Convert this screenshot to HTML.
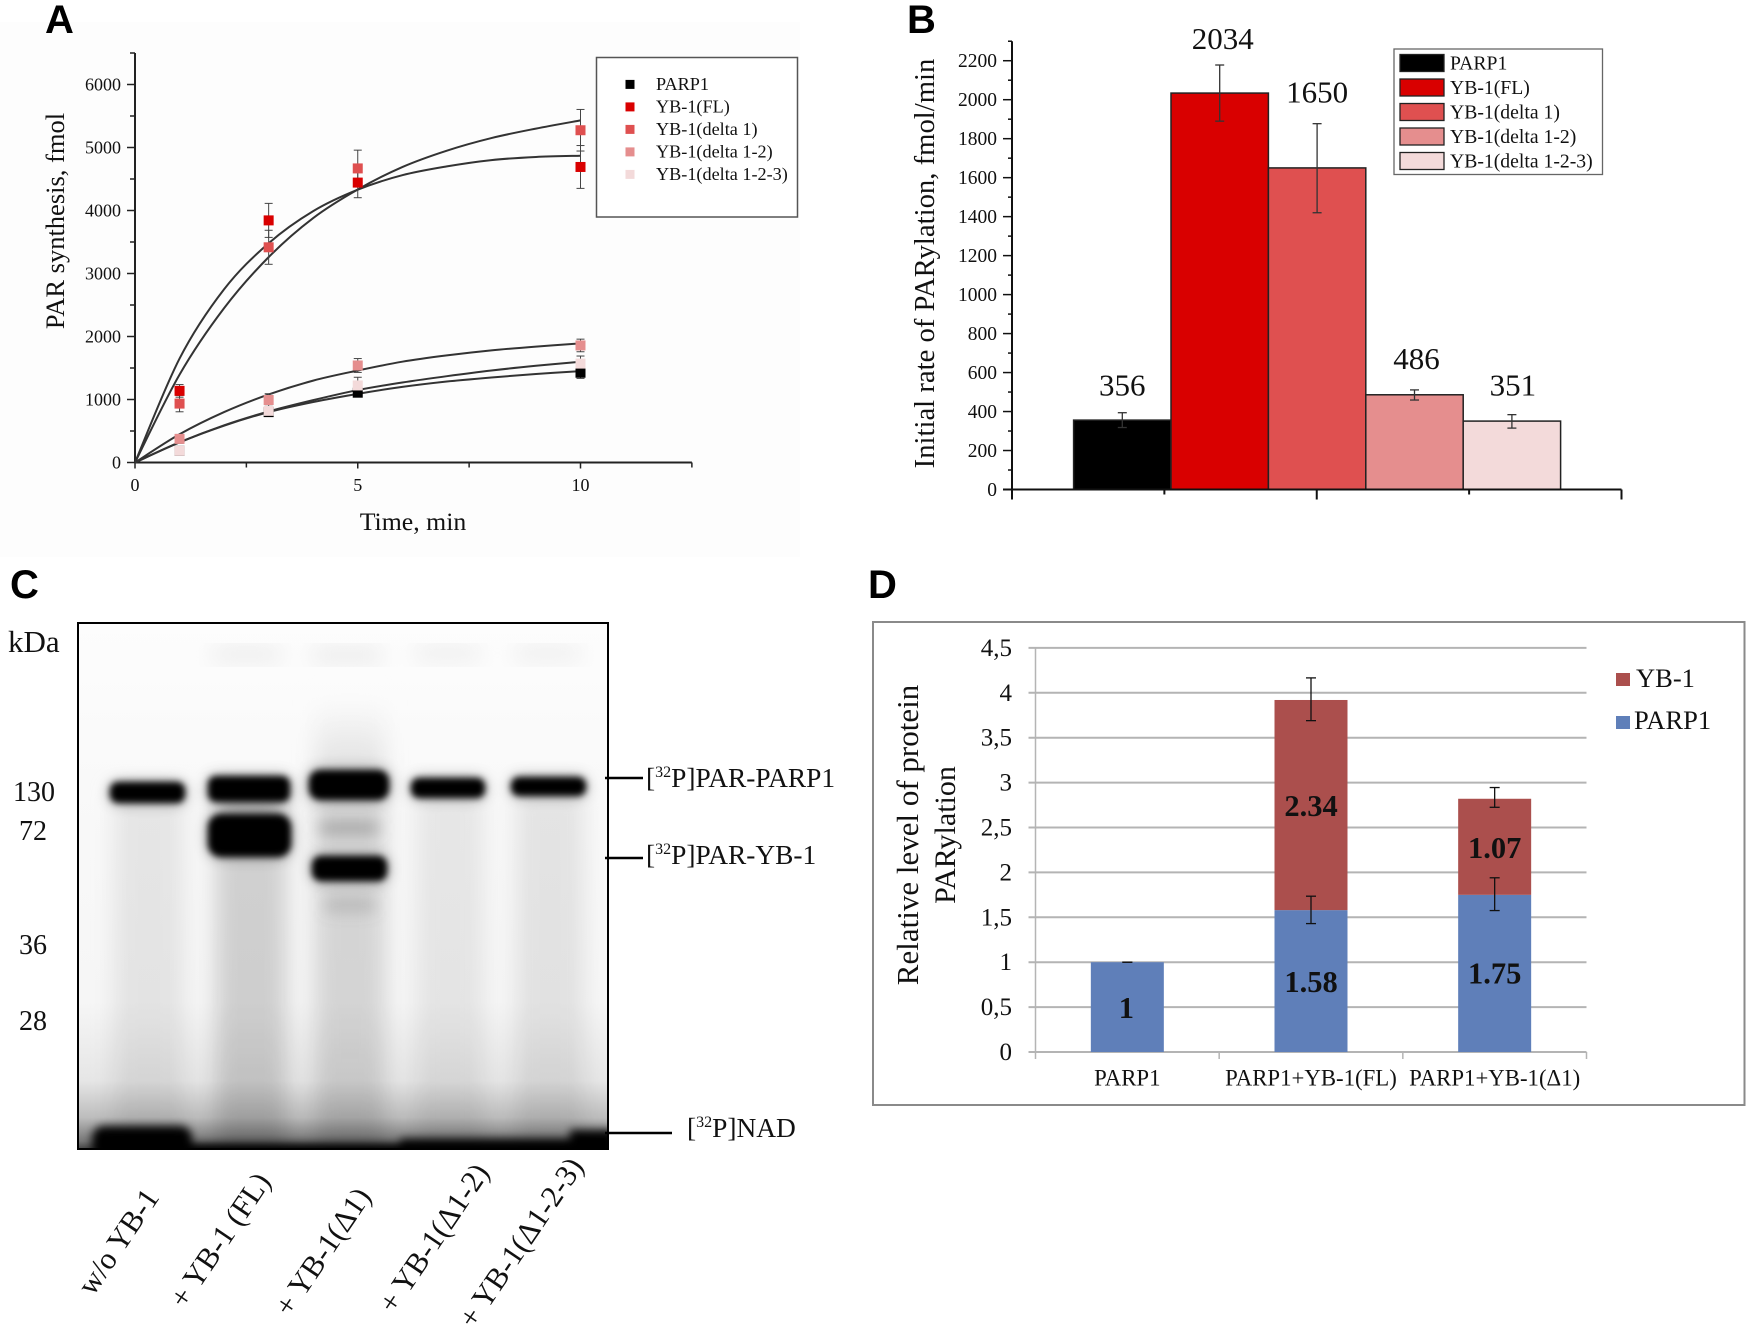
<!DOCTYPE html>
<html lang="en">
<head>
<meta charset="utf-8">
<title>PARylation figure</title>
<style>
html,body{margin:0;padding:0;background:#fff;width:1748px;height:1331px;overflow:hidden}
svg{display:block}
text{font-family:"Liberation Serif","DejaVu Serif",serif;fill:#111}
.panel-letter{font-family:"Liberation Sans",Arial,sans-serif;font-weight:700;font-size:40px;fill:#000}
.multiply{mix-blend-mode:multiply}
</style>
</head>
<body>
<svg id="figure" xmlns="http://www.w3.org/2000/svg" width="1748" height="1331" viewBox="0 0 1748 1331">
<defs>
<filter id="blur1" x="-20%" y="-40%" width="140%" height="180%"><feGaussianBlur stdDeviation="3.4"/></filter>
<filter id="blur2" x="-30%" y="-80%" width="160%" height="260%"><feGaussianBlur stdDeviation="7.5"/></filter>
<filter id="blur3" x="-20%" y="-10%" width="140%" height="120%"><feGaussianBlur stdDeviation="11"/></filter>
<filter id="blur4" x="-20%" y="-100%" width="140%" height="300%"><feGaussianBlur stdDeviation="4.5"/></filter>
<linearGradient id="gelBg" x1="0" y1="0" x2="0" y2="1">
<stop offset="0" stop-color="#fdfdfd"/><stop offset=".3" stop-color="#f9f9f9"/><stop offset=".72" stop-color="#f6f6f6"/><stop offset=".87" stop-color="#e6e6e6"/><stop offset=".94" stop-color="#bdbdbd"/><stop offset=".985" stop-color="#777"/><stop offset="1" stop-color="#444"/>
</linearGradient>
<linearGradient id="lane3Fade" x1="0" y1="0" x2="0" y2="1">
<stop offset="0" stop-color="#ffffff"/><stop offset=".22" stop-color="#dadada"/><stop offset="1" stop-color="#dedede"/>
</linearGradient>
<clipPath id="gelClip"><rect x="78" y="623" width="530" height="526"/></clipPath>
</defs>
<rect x="0" y="0" width="1748" height="1331" fill="#fff"/>
<rect x="0" y="22" width="800" height="535" fill="#fdfdfd"/>

<text class="panel-letter" x="45" y="33">A</text>
<text class="panel-letter" x="907" y="33">B</text>
<text class="panel-letter" x="10" y="598">C</text>
<text class="panel-letter" x="868" y="598">D</text>

<g id="panelA"></g>
<g id="panelB"></g>

<g>
  <g clip-path="url(#gelClip)">
    <rect x="78" y="623" width="530" height="526" fill="url(#gelBg)"/>
    <g class="multiply" filter="url(#blur3)" fill="#f0f0f0">
      <rect x="212" y="645" width="70" height="18"/><rect x="312" y="645" width="70" height="20"/><rect x="415" y="645" width="65" height="16"/><rect x="515" y="645" width="65" height="16"/>
    </g>
    <g class="multiply" filter="url(#blur3)">
      <rect x="114" y="790" width="70" height="380" fill="#ececec"/>
      <rect x="216" y="790" width="70" height="380" fill="#d6d6d6"/>
      <rect x="315" y="700" width="70" height="470" fill="url(#lane3Fade)"/>
      <rect x="416" y="790" width="68" height="380" fill="#ededed"/>
      <rect x="516" y="790" width="68" height="380" fill="#eaeaea"/>
    </g>
    <g filter="url(#blur2)" fill="#000" opacity=".38">
      <rect x="110" y="782" width="75" height="21" rx="8"/>
      <rect x="208" y="776" width="82" height="26" rx="8"/>
      <rect x="208" y="815" width="83" height="42" rx="12"/>
      <rect x="309" y="770" width="80" height="30" rx="10"/>
      <rect x="312" y="856" width="75" height="25" rx="8"/>
      <rect x="411" y="778" width="74" height="20" rx="8"/>
      <rect x="511" y="777" width="75" height="19" rx="8"/>
    </g>
    <g filter="url(#blur2)" fill="#777">
      <rect x="320" y="822" width="58" height="12" opacity=".55"/>
      <rect x="325" y="898" width="50" height="14" opacity=".3"/>
      <rect x="222" y="805" width="55" height="8" opacity=".6"/>
    </g>
    <g filter="url(#blur1)" fill="#000">
      <rect x="110" y="782" width="75" height="21" rx="8"/>
      <rect x="208" y="776" width="82" height="26" rx="8"/>
      <rect x="208" y="814" width="83" height="43" rx="13"/>
      <rect x="309" y="770" width="80" height="30" rx="11"/>
      <rect x="312" y="856" width="75" height="25" rx="9"/>
      <rect x="411" y="778" width="74" height="20" rx="8"/>
      <rect x="511" y="777" width="75" height="19" rx="8"/>
    </g>
    <g filter="url(#blur4)" fill="#000">
      <rect x="92" y="1126" width="100" height="34" rx="12"/>
      <rect x="180" y="1144" width="430" height="16"/>
      <rect x="400" y="1139" width="170" height="18"/>
      <rect x="570" y="1130" width="45" height="28"/>
    </g>
  </g>
  <rect x="78" y="623" width="530" height="526" fill="none" stroke="#000" stroke-width="2"/>
  <text x="8" y="652" font-size="31">kDa</text>
  <g font-size="28">
    <text x="55" y="801" text-anchor="end">130</text>
    <text x="47" y="840" text-anchor="end">72</text>
    <text x="47" y="954" text-anchor="end">36</text>
    <text x="47" y="1030" text-anchor="end">28</text>
  </g>
  <line x1="605" y1="778" x2="643" y2="778" stroke="#000" stroke-width="2.5"/>
  <line x1="605" y1="858" x2="643" y2="858" stroke="#000" stroke-width="2.5"/>
  <line x1="605" y1="1133" x2="672" y2="1133" stroke="#000" stroke-width="2.5"/>
  <text x="646" y="787" font-size="27.4">[<tspan font-size="16" dy="-10">32</tspan><tspan dy="10">P]PAR-PARP1</tspan></text>
  <text x="646" y="864" font-size="27.4">[<tspan font-size="16" dy="-10">32</tspan><tspan dy="10">P]PAR-YB-1</tspan></text>
  <text x="687" y="1137" font-size="27.4">[<tspan font-size="16" dy="-10">32</tspan><tspan dy="10">P]NAD</tspan></text>
  <g font-size="30.5">
    <text transform="translate(93,1297) rotate(-56)">w/o YB-1</text>
    <text transform="translate(185,1310) rotate(-56)">+ YB-1 (FL)</text>
    <text transform="translate(290,1318) rotate(-56)">+ YB-1(Δ1)</text>
    <text transform="translate(394,1315) rotate(-56)">+ YB-1(Δ1-2)</text>
    <text transform="translate(474,1330) rotate(-56)">+ YB-1(Δ1-2-3)</text>
  </g>
</g>

<g id="panelD"></g>

<script>
/* ---------- Panel A data ---------- */
const timePoints = [1, 3, 5, 10];
const seriesNames = ['PARP1', 'YB-1(FL)', 'YB-1(delta 1)', 'YB-1(delta 1-2)', 'YB-1(delta 1-2-3)'];
const seriesColors = ['#000000', '#d90000', '#df5050', '#e58e8e', '#f3dada'];
const parp1Means = [185, 800, 1108, 1425];
const parp1Errors = [40, 60, 50, 90];
const flMeans = [1137, 3843, 4443, 4691];
const flErrors = [100, 270, 240, 340];
const delta1Means = [935, 3416, 4668, 5274];
const delta1Errors = [130, 270, 290, 330];
const delta12Means = [375, 992, 1540, 1858];
const delta12Errors = [70, 100, 110, 100];
const delta123Means = [185, 820, 1223, 1570];
const delta123Errors = [40, 70, 130, 120];
const curveTimes = [0, 1, 2, 3, 4, 5, 6, 7, 8, 9, 10];
const parp1Curve = [0, 320, 585, 800, 960, 1090, 1200, 1285, 1350, 1405, 1450];
const flCurve = [0, 1650, 2750, 3480, 3990, 4330, 4560, 4700, 4800, 4850, 4870];
const delta1Curve = [0, 1395, 2450, 3260, 3880, 4333, 4690, 4950, 5150, 5300, 5430];
const delta12Curve = [0, 448, 800, 1080, 1300, 1460, 1600, 1700, 1780, 1840, 1890];
const delta123Curve = [0, 320, 590, 810, 990, 1150, 1270, 1370, 1460, 1535, 1600];
const aYTicks = [0, 1000, 2000, 3000, 4000, 5000, 6000];
const aYMinor = [500, 1500, 2500, 3500, 4500, 5500, 6500];
const aXTicks = [0, 5, 10];
const aXMinor = [2.5, 7.5, 12.5];

/* ---------- Panel B data ---------- */
const rateValues = [356, 2034, 1650, 486, 351];
const rateErrLow = [318, 1890, 1420, 459, 315];
const rateErrHigh = [394, 2178, 1877, 511, 384];
const rateLabels = ['356', '2034', '1650', '486', '351'];
const bYTicks = [0, 200, 400, 600, 800, 1000, 1200, 1400, 1600, 1800, 2000, 2200];
const bYMinor = [100, 300, 500, 700, 900, 1100, 1300, 1500, 1700, 1900, 2100, 2300];

/* ---------- Panel D data ---------- */
const relCategories = ['PARP1', 'PARP1+YB-1(FL)', 'PARP1+YB-1(Δ1)'];
const relParp1 = [1, 1.58, 1.75];
const relYb1 = [0, 2.34, 1.07];
const relParp1Low = [1, 1.43, 1.575];
const relParp1High = [1, 1.735, 1.94];
const relTotalLow = [null, 3.69, 2.725];
const relTotalHigh = [null, 4.166, 2.945];
const relParp1Labels = ['1', '1.58', '1.75'];
const relYb1Labels = ['', '2.34', '1.07'];
const dYTicks = [0, 0.5, 1, 1.5, 2, 2.5, 3, 3.5, 4, 4.5];
const dYTickLabels = ['0', '0,5', '1', '1,5', '2', '2,5', '3', '3,5', '4', '4,5'];

const NS = 'http://www.w3.org/2000/svg';
function mk(parent, tag, attrs, content) {
  const e = document.createElementNS(NS, tag);
  for (const k in attrs) e.setAttribute(k, attrs[k]);
  if (content !== undefined) e.textContent = content;
  parent.appendChild(e);
  return e;
}
function ln(parent, x1, y1, x2, y2, stroke, w) {
  return mk(parent, 'line', {x1, y1, x2, y2, stroke, 'stroke-width': w});
}
function errorBar(parent, x, yLow, yHigh, cap, stroke, w) {
  const g = mk(parent, 'g', {});
  ln(g, x, yLow, x, yHigh, stroke, w);
  ln(g, x - cap, yLow, x + cap, yLow, stroke, w);
  ln(g, x - cap, yHigh, x + cap, yHigh, stroke, w);
  return g;
}

/* ---------- Panel A ---------- */
(function () {
  const root = document.getElementById('panelA');
  const xA = t => 135 + t * 44.55;
  const yA = v => 462.5 - v * 0.0630;
  const axisCol = '#222';
  const means = [parp1Means, flMeans, delta1Means, delta12Means, delta123Means];
  const errors = [parp1Errors, flErrors, delta1Errors, delta12Errors, delta123Errors];
  const curves = [parp1Curve, flCurve, delta1Curve, delta12Curve, delta123Curve];

  const yAxis = ln(root, xA(0), yA(0), xA(0), yA(6500), axisCol, 2);
  
  
  const xAxis = ln(root, xA(0), yA(0), xA(12.5), yA(0), axisCol, 2);
  
  

  aYTicks.forEach(v => {
    const t = ln(root, xA(0) - 8, yA(v), xA(0), yA(v), axisCol, 1.5);
    
    
    const l = mk(root, 'text', {x: 121, y: yA(v) + 6, 'text-anchor': 'end', 'font-size': 18}, String(v));
    
    
  });
  aYMinor.forEach(v => {
    const t = ln(root, xA(0) - 5, yA(v), xA(0), yA(v), axisCol, 1.5);
    
    
  });
  aXTicks.forEach(v => {
    const t = ln(root, xA(v), yA(0), xA(v), yA(0) + 6, axisCol, 1.5);
    
    
    const l = mk(root, 'text', {x: xA(v), y: 491, 'text-anchor': 'middle', 'font-size': 18}, String(v));
    
    
  });
  aXMinor.forEach(v => {
    const t = ln(root, xA(v), yA(0), xA(v), yA(0) + 5, axisCol, 1.5);
    
    
  });

  const yTitle = mk(root, 'text', {transform: 'translate(64,221) rotate(-90)', 'text-anchor': 'middle', 'font-size': 26.5}, 'PAR synthesis, fmol');
  
  
  const xTitle = mk(root, 'text', {x: 413, y: 530, 'text-anchor': 'middle', 'font-size': 25.8}, 'Time, min');
  
  

  curves.forEach(c => {
    const pts = c.map((v, i) => [xA(curveTimes[i]), yA(v)]);
    let d = 'M' + pts[0][0] + ' ' + pts[0][1];
    for (let i = 0; i < pts.length - 1; i++) {
      const p0 = pts[Math.max(0, i - 1)], p1 = pts[i], p2 = pts[i + 1], p3 = pts[Math.min(pts.length - 1, i + 2)];
      d += ' C' + (p1[0] + (p2[0] - p0[0]) / 6) + ' ' + (p1[1] + (p2[1] - p0[1]) / 6) + ' ' +
           (p2[0] - (p3[0] - p1[0]) / 6) + ' ' + (p2[1] - (p3[1] - p1[1]) / 6) + ' ' + p2[0] + ' ' + p2[1];
    }
    const path = mk(root, 'path', {d, fill: 'none', stroke: '#333', 'stroke-width': 2});
    
    
  });

  means.forEach((m, s) => {
    m.forEach((v, i) => {
      const x = xA(timePoints[i]);
      const eb = errorBar(root, x, yA(v - errors[s][i]), yA(v + errors[s][i]), 4, '#444', 1);
      
      
    });
  });
  means.forEach((m, s) => {
    m.forEach((v, i) => {
      const r = mk(root, 'rect', {x: xA(timePoints[i]) - 5, y: yA(v) - 5, width: 10, height: 10, fill: seriesColors[s]});
      
      
    });
  });

  const frame = mk(root, 'rect', {x: 596.5, y: 57.5, width: 201, height: 159.5, fill: '#fff', stroke: '#555', 'stroke-width': 1.5});
  
  
  seriesNames.forEach((n, i) => {
    const cy = 84.4 + i * 22.5;
    const m = mk(root, 'rect', {x: 625.5, y: cy - 4.5, width: 9, height: 9, fill: seriesColors[i]});
    
    
    const t = mk(root, 'text', {x: 656, y: cy + 5.5, 'font-size': 18.2}, n);
    
    
  });
})();

/* ---------- Panel B ---------- */
(function () {
  const root = document.getElementById('panelB');
  const xAxisLeft = 1012;
  const xAxisRight = 1621.5;
  const yB = v => 489.5 - v * 0.1949;
  const barLeft = i => 1073.6 + i * 97.4;
  const barW = 97.4;
  const axisCol = '#111';
  const labelShift = [0, 3, 0, 2, 1];
  const labelLift = [17, 16, 21, 21, 19];

  rateValues.forEach((v, i) => {
    const r = mk(root, 'rect', {x: barLeft(i), y: yB(v), width: barW, height: yB(0) - yB(v), fill: seriesColors[i], stroke: '#222', 'stroke-width': 1.5});
    
    
  });
  rateValues.forEach((v, i) => {
    const eb = errorBar(root, barLeft(i) + barW / 2, yB(rateErrLow[i]), yB(rateErrHigh[i]), 4.5, '#333', 1.3);
    
    
    const t = mk(root, 'text', {x: barLeft(i) + barW / 2 + labelShift[i], y: yB(rateErrHigh[i]) - labelLift[i], 'text-anchor': 'middle', 'font-size': 31}, rateLabels[i]);
    
    
  });

  const yAxis = ln(root, xAxisLeft, yB(0), xAxisLeft, yB(2300), axisCol, 2);
  
  
  const xAxis = ln(root, xAxisLeft - 9, yB(0), xAxisRight, yB(0), axisCol, 2);
  
  

  bYTicks.forEach(v => {
    const t = ln(root, xAxisLeft - 9, yB(v), xAxisLeft, yB(v), axisCol, 1.5);
    
    
    const l = mk(root, 'text', {x: 997, y: yB(v) + 6.5, 'text-anchor': 'end', 'font-size': 19.5}, String(v));
    
    
  });
  bYMinor.forEach(v => {
    const t = ln(root, xAxisLeft - 4, yB(v), xAxisLeft, yB(v), axisCol, 1.5);
    
    
  });
  [0, 1, 2, 3, 4].forEach(k => {
    const x = xAxisLeft + k * (xAxisRight - xAxisLeft) / 4;
    const t = ln(root, x, yB(0), x, yB(0) + (k % 2 ? 5 : 10), axisCol, 2);
    
    
  });

  const yTitle = mk(root, 'text', {transform: 'translate(934,263.5) rotate(-90)', 'text-anchor': 'middle', 'font-size': 28.7}, 'Initial rate of PARylation, fmol/min');
  
  

  const frame = mk(root, 'rect', {x: 1394, y: 49, width: 208.5, height: 125.5, fill: '#fff', stroke: '#666', 'stroke-width': 1.3});
  
  
  seriesNames.forEach((n, i) => {
    const cy = 63 + i * 24.5;
    const s = mk(root, 'rect', {x: 1400, y: cy - 8.5, width: 44, height: 17, fill: seriesColors[i], stroke: '#222', 'stroke-width': 1.3});
    
    
    const t = mk(root, 'text', {x: 1450, y: cy + 6.5, 'font-size': 19.7}, n);
    
    
  });
})();

/* ---------- Panel D ---------- */
(function () {
  const root = document.getElementById('panelD');
  const left = 1035.5, right = 1586.5;
  const yD = v => 1052 - v * 89.8;
  const cx = i => left + (i + 0.5) * (right - left) / relCategories.length;
  const barW = 73;
  const grid = '#b4b4b4';
  const lowerShift = [1, 1, 0];

  const frame = mk(root, 'rect', {x: 873, y: 622, width: 871.5, height: 483, fill: '#fff', stroke: '#8a8a8a', 'stroke-width': 2});
  
  

  dYTicks.forEach((v, i) => {
    const g = ln(root, left - 7, yD(v), right, yD(v), grid, 2);
    
    
    const t = mk(root, 'text', {x: 1012, y: yD(v) + 8, 'text-anchor': 'end', 'font-size': 25}, dYTickLabels[i]);
    
    
  });
  const yAxis = ln(root, left, yD(0), left, yD(4.5), grid, 1.5);
  
  
  relCategories.forEach((c, i) => {
    const l = mk(root, 'text', {x: cx(i), y: 1085.5, 'text-anchor': 'middle', 'font-size': 22.8}, c);
    
    
  });
  [0, 1, 2, 3].forEach(k => {
    const x = left + k * (right - left) / 3;
    const t = ln(root, x, yD(0), x, yD(0) + 7, grid, 1.5);
    
    
  });

  relCategories.forEach((c, i) => {
    const b = mk(root, 'rect', {x: cx(i) - barW / 2, y: yD(relParp1[i]), width: barW, height: yD(0) - yD(relParp1[i]), fill: '#5f7fb9'});
    
    
    if (relYb1[i] > 0) {
      const r = mk(root, 'rect', {x: cx(i) - barW / 2, y: yD(relParp1[i] + relYb1[i]), width: barW, height: yD(relParp1[i]) - yD(relParp1[i] + relYb1[i]), fill: '#ab4f4d'});
      
      
    }
    const e1 = errorBar(root, cx(i), yD(relParp1Low[i]), yD(relParp1High[i]), 5, '#111', 1.3);
    
    
    if (relTotalLow[i] !== null) {
      const e2 = errorBar(root, cx(i), yD(relTotalLow[i]), yD(relTotalHigh[i]), 5, '#111', 1.3);
      
      
    }
    const offset = [-1, 0, 0][i];
    const lb = mk(root, 'text', {x: cx(i) + offset, y: yD(relParp1[i] / 2) + lowerShift[i] + 10, 'text-anchor': 'middle', 'font-size': 30.5, 'font-weight': 700, fill: '#000'}, relParp1Labels[i]);
    
    
    if (relYb1Labels[i]) {
      const up = mk(root, 'text', {x: cx(i), y: yD(relParp1[i] + relYb1[i] / 2) + 11, 'text-anchor': 'middle', 'font-size': 30.5, 'font-weight': 700, fill: '#000'}, relYb1Labels[i]);
      
      
    }
  });

  const yTitle1 = mk(root, 'text', {transform: 'translate(918,835) rotate(-90)', 'text-anchor': 'middle', 'font-size': 31}, 'Relative level of protein');
  
  
  const yTitle2 = mk(root, 'text', {transform: 'translate(955,835) rotate(-90)', 'text-anchor': 'middle', 'font-size': 30}, 'PARylation');
  
  

  const s1 = mk(root, 'rect', {x: 1616, y: 673, width: 14, height: 13, fill: '#ab4f4d'});
  
  
  const t1 = mk(root, 'text', {x: 1636, y: 687, 'font-size': 26.5}, 'YB-1');
  
  
  const s2 = mk(root, 'rect', {x: 1616, y: 716, width: 14, height: 13, fill: '#5f7fb9'});
  
  
  const t2 = mk(root, 'text', {x: 1634, y: 729, 'font-size': 26.5}, 'PARP1');
  
  
})();
</script>
</svg>
</body>
</html>
